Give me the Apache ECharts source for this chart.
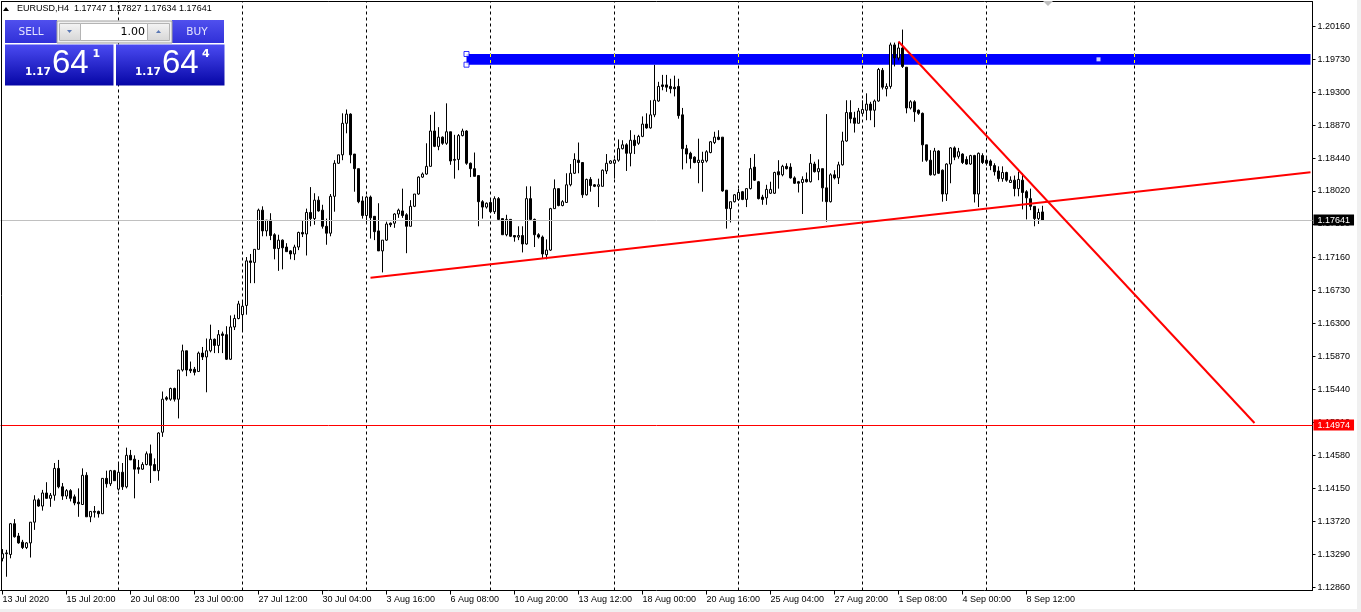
<!DOCTYPE html>
<html><head><meta charset="utf-8">
<script src="https://cdn.jsdelivr.net/npm/echarts@6/dist/echarts.min.js"></script>
<style>html,body{margin:0;padding:0;background:#fff;overflow:hidden}#c{width:1361px;height:612px}</style>
</head><body><div id="c"></div>
<script>
const symbolName = 'EURUSD,H4';
const opens = [1.1324,1.1330,1.1329,1.1369,1.1353,1.1345,1.1338,1.1344,1.1371,1.1400,1.1392,1.1409,1.1402,1.1406,1.1441,1.1417,1.1405,1.1412,1.1404,1.1397,1.1394,1.1432,1.1378,1.1385,1.1385,1.1382,1.1428,1.1421,1.1438,1.1414,1.1436,1.1417,1.1458,1.1453,1.1442,1.1440,1.1446,1.1460,1.1446,1.1438,1.1488,1.1533,1.1531,1.1545,1.1531,1.1569,1.1594,1.1570,1.1570,1.1567,1.1591,1.1586,1.1594,1.1609,1.1601,1.1616,1.1615,1.1583,1.1625,1.1636,1.1641,1.1653,1.1711,1.1709,1.1726,1.1777,1.1750,1.1764,1.1745,1.1727,1.1738,1.1729,1.1724,1.1720,1.1729,1.1748,1.1746,1.1774,1.1766,1.1790,1.1777,1.1756,1.1747,1.1795,1.1838,1.1849,1.1890,1.1902,1.1850,1.1831,1.1789,1.1770,1.1794,1.1769,1.1750,1.1724,1.1738,1.1760,1.1760,1.1772,1.1776,1.1771,1.1756,1.1782,1.1798,1.1820,1.1824,1.1834,1.1880,1.1860,1.1872,1.1864,1.1879,1.1843,1.1843,1.1874,1.1880,1.1838,1.1831,1.1822,1.1788,1.1781,1.1787,1.1775,1.1792,1.1766,1.1745,1.1765,1.1744,1.1742,1.1744,1.1733,1.1792,1.1765,1.1745,1.1742,1.1719,1.1725,1.1779,1.1805,1.1783,1.1787,1.1810,1.1825,1.1842,1.1839,1.1797,1.1817,1.1810,1.1808,1.1808,1.1828,1.1838,1.1838,1.1842,1.1857,1.1862,1.1851,1.1868,1.1864,1.1873,1.1889,1.1884,1.1901,1.1919,1.1940,1.1940,1.1938,1.1937,1.1938,1.1901,1.1857,1.1851,1.1846,1.1839,1.1839,1.1841,1.1852,1.1865,1.1872,1.1872,1.1803,1.1779,1.1788,1.1791,1.1801,1.1791,1.1805,1.1833,1.1814,1.1794,1.1793,1.1799,1.1799,1.1827,1.1823,1.1834,1.1833,1.1819,1.1814,1.1813,1.1817,1.1814,1.1837,1.1827,1.1831,1.1806,1.1788,1.1823,1.1819,1.1836,1.1867,1.1904,1.1897,1.1890,1.1903,1.1907,1.1915,1.1907,1.1919,1.1959,1.1935,1.1938,1.1992,1.1975,1.1988,1.1963,1.1910,1.1918,1.1907,1.1903,1.1862,1.1842,1.1823,1.1854,1.1829,1.1798,1.1837,1.1858,1.1847,1.1850,1.1843,1.1837,1.1848,1.1798,1.1848,1.1842,1.1841,1.1835,1.1828,1.1818,1.1826,1.1813,1.1816,1.1805,1.1816,1.1801,1.1792,1.1782,1.1766,1.17747];
const highs = [1.1336,1.1335,1.1370,1.1375,1.1357,1.1348,1.1345,1.1371,1.1406,1.1402,1.1413,1.1423,1.1409,1.1448,1.1452,1.1422,1.1414,1.1414,1.1407,1.1415,1.1441,1.1436,1.1385,1.1392,1.1386,1.1428,1.1438,1.1439,1.1439,1.1449,1.1448,1.1468,1.1465,1.1458,1.1452,1.1449,1.1463,1.1472,1.1454,1.1488,1.1541,1.1535,1.1546,1.1546,1.1569,1.1602,1.1594,1.1580,1.1573,1.1593,1.1599,1.1610,1.1628,1.1610,1.1621,1.1619,1.1626,1.1640,1.1641,1.1659,1.1659,1.1716,1.1720,1.1726,1.1779,1.1782,1.1764,1.1773,1.1747,1.1745,1.1739,1.1734,1.1725,1.1732,1.1749,1.1764,1.1779,1.1807,1.1799,1.1795,1.1784,1.1766,1.1798,1.1842,1.1849,1.1903,1.1908,1.1903,1.1850,1.1831,1.1795,1.1796,1.1796,1.1769,1.1786,1.1738,1.1762,1.1761,1.1773,1.1779,1.1805,1.1773,1.1790,1.1798,1.1821,1.1826,1.1864,1.1901,1.1905,1.1885,1.1873,1.1916,1.1879,1.1875,1.1876,1.1883,1.1881,1.1839,1.1852,1.1822,1.1790,1.1787,1.1792,1.1795,1.1794,1.1766,1.1771,1.1765,1.1744,1.1756,1.1756,1.1808,1.1808,1.1766,1.1747,1.1744,1.1739,1.1780,1.1817,1.1805,1.1790,1.1825,1.1837,1.1851,1.1865,1.1839,1.1818,1.1820,1.1811,1.1818,1.1830,1.1850,1.1842,1.1844,1.1869,1.1868,1.1864,1.1881,1.1875,1.1875,1.1899,1.1903,1.1920,1.1966,1.1944,1.1953,1.1953,1.1948,1.1952,1.1948,1.1910,1.1862,1.1853,1.1847,1.1870,1.1853,1.1855,1.1867,1.1879,1.1881,1.1872,1.1803,1.1788,1.1798,1.1805,1.1802,1.1805,1.1845,1.1850,1.1815,1.1797,1.1810,1.1814,1.1827,1.1842,1.1836,1.1838,1.1838,1.1821,1.1815,1.1821,1.1826,1.1850,1.1840,1.1843,1.1831,1.1902,1.1825,1.1829,1.1840,1.1879,1.1920,1.1920,1.1905,1.1910,1.1920,1.1929,1.1918,1.1921,1.1962,1.1962,1.1942,1.1995,1.1995,1.1996,1.2012,1.1963,1.1920,1.1920,1.1908,1.1904,1.1862,1.1855,1.1858,1.1855,1.1830,1.1838,1.1859,1.1860,1.1858,1.1851,1.1847,1.1849,1.1849,1.1852,1.1851,1.1845,1.1843,1.1838,1.1834,1.1834,1.1827,1.1821,1.1822,1.1827,1.1825,1.1803,1.1805,1.1782,1.1779,1.17827];
const lows = [1.1320,1.1300,1.1324,1.1351,1.1343,1.1336,1.1336,1.1325,1.1361,1.1391,1.1386,1.1402,1.1391,1.1399,1.1415,1.1400,1.1401,1.1398,1.1393,1.1378,1.1394,1.1378,1.1371,1.1377,1.1377,1.1382,1.1416,1.1418,1.1425,1.1412,1.1413,1.1415,1.1452,1.1402,1.1434,1.1439,1.1445,1.1422,1.1438,1.1425,1.1482,1.1529,1.1529,1.1528,1.1506,1.1567,1.1561,1.1565,1.1562,1.1567,1.1582,1.1540,1.1592,1.1591,1.1591,1.1591,1.1582,1.1582,1.1621,1.1635,1.1621,1.1641,1.1682,1.1682,1.1726,1.1743,1.1743,1.1738,1.1713,1.1698,1.1700,1.1723,1.1713,1.1712,1.1725,1.1742,1.1718,1.1756,1.1758,1.1775,1.1753,1.1732,1.1743,1.1775,1.1837,1.1842,1.1877,1.1838,1.1801,1.1786,1.1766,1.1760,1.1740,1.1738,1.1724,1.1696,1.1737,1.1755,1.1754,1.1767,1.1767,1.1721,1.1756,1.1781,1.1797,1.1819,1.1823,1.1834,1.1859,1.1855,1.1862,1.1862,1.1836,1.1818,1.1829,1.1873,1.1836,1.1820,1.1821,1.1756,1.1766,1.1779,1.1773,1.1772,1.1764,1.1745,1.1743,1.1742,1.1736,1.1738,1.1722,1.1732,1.1764,1.1729,1.1740,1.1714,1.1713,1.1724,1.1779,1.1782,1.1782,1.1787,1.1808,1.1824,1.1825,1.1793,1.1796,1.1801,1.1807,1.1781,1.1808,1.1824,1.1837,1.1818,1.1840,1.1856,1.1828,1.1834,1.1850,1.1862,1.1872,1.1883,1.1883,1.1898,1.1918,1.1933,1.1931,1.1929,1.1925,1.1896,1.1830,1.1838,1.1831,1.1838,1.1812,1.1801,1.1839,1.1851,1.1863,1.1868,1.1801,1.1753,1.1761,1.1787,1.1789,1.1790,1.1781,1.1804,1.1815,1.1791,1.1784,1.1784,1.1798,1.1798,1.1805,1.1821,1.1830,1.1818,1.1811,1.1800,1.1772,1.1813,1.1813,1.1826,1.1816,1.1788,1.1762,1.1787,1.1817,1.1811,1.1835,1.1866,1.1890,1.1878,1.1890,1.1901,1.1894,1.1894,1.1885,1.1918,1.1934,1.1925,1.1935,1.1964,1.1972,1.1962,1.1903,1.1908,1.1892,1.1901,1.1840,1.1840,1.1822,1.1822,1.1824,1.1788,1.1789,1.1812,1.1842,1.1844,1.1837,1.1836,1.1836,1.1787,1.1781,1.1837,1.1835,1.1829,1.1822,1.1814,1.1814,1.1814,1.1813,1.1795,1.1795,1.1778,1.1765,1.1777,1.1756,1.1759,1.17634];
const closes = [1.1330,1.1331,1.1369,1.1352,1.1344,1.1338,1.1344,1.1371,1.1400,1.1392,1.1409,1.1402,1.1406,1.1441,1.1417,1.1405,1.1412,1.1402,1.1396,1.1395,1.1432,1.1378,1.1385,1.1384,1.1382,1.1428,1.1421,1.1438,1.1425,1.1436,1.1417,1.1458,1.1452,1.1440,1.1440,1.1446,1.1460,1.1445,1.1438,1.1487,1.1531,1.1531,1.1545,1.1531,1.1569,1.1594,1.1569,1.1568,1.1566,1.1591,1.1586,1.1594,1.1609,1.1601,1.1615,1.1614,1.1583,1.1625,1.1636,1.1655,1.1652,1.1711,1.1709,1.1726,1.1777,1.1750,1.1764,1.1744,1.1727,1.1738,1.1728,1.1723,1.1720,1.1729,1.1748,1.1746,1.1774,1.1766,1.1790,1.1776,1.1756,1.1747,1.1795,1.1838,1.1849,1.1890,1.1902,1.1849,1.1831,1.1788,1.1770,1.1794,1.1767,1.1749,1.1724,1.1738,1.1759,1.1758,1.1772,1.1777,1.1770,1.1756,1.1782,1.1798,1.1820,1.1824,1.1834,1.1880,1.1860,1.1872,1.1864,1.1879,1.1841,1.1842,1.1874,1.1880,1.1838,1.1831,1.1821,1.1788,1.1781,1.1786,1.1775,1.1792,1.1765,1.1745,1.1765,1.1743,1.1742,1.1744,1.1733,1.1792,1.1765,1.1745,1.1742,1.1720,1.1725,1.1779,1.1805,1.1783,1.1788,1.1810,1.1825,1.1843,1.1839,1.1797,1.1817,1.1809,1.1808,1.1810,1.1829,1.1838,1.1841,1.1842,1.1857,1.1862,1.1851,1.1868,1.1861,1.1873,1.1889,1.1884,1.1901,1.1920,1.1938,1.1938,1.1937,1.1935,1.1935,1.1900,1.1857,1.1850,1.1844,1.1839,1.1842,1.1842,1.1853,1.1866,1.1872,1.1869,1.1802,1.1779,1.1788,1.1797,1.1800,1.1791,1.1805,1.1831,1.1816,1.1792,1.1791,1.1804,1.1804,1.1826,1.1823,1.1834,1.1831,1.1819,1.1812,1.1812,1.1817,1.1814,1.1838,1.1827,1.1831,1.1806,1.1788,1.1823,1.1819,1.1836,1.1867,1.1904,1.1896,1.1890,1.1906,1.1908,1.1915,1.1907,1.1919,1.1960,1.1937,1.1938,1.1992,1.1975,1.1988,1.1964,1.1910,1.1918,1.1905,1.1903,1.1862,1.1842,1.1823,1.1854,1.1825,1.1798,1.1837,1.1858,1.1846,1.1853,1.1839,1.1837,1.1848,1.1798,1.1851,1.1839,1.1838,1.1835,1.1827,1.1818,1.1826,1.1816,1.1816,1.1805,1.1817,1.1800,1.1793,1.1782,1.1766,1.1774,1.17641];

const yTickValues = [1.12860,1.13290,1.13720,1.14150,1.14580,1.15010,1.15440,1.15870,1.16300,1.16730,1.17160,1.17590,1.18020,1.18440,1.18870,1.19300,1.19730,1.20160];
const xTickLabels = ['13 Jul 2020','15 Jul 20:00','20 Jul 08:00','23 Jul 00:00','27 Jul 12:00','30 Jul 04:00','3 Aug 16:00','6 Aug 08:00','10 Aug 20:00','13 Aug 12:00','18 Aug 00:00','20 Aug 16:00','25 Aug 04:00','27 Aug 20:00','1 Sep 08:00','4 Sep 00:00','8 Sep 12:00'];
const weekGridTimes = ['2020.07.19 20:00','2020.07.26 20:00','2020.08.02 20:00','2020.08.09 20:00','2020.08.16 20:00','2020.08.23 20:00','2020.08.30 20:00','2020.09.06 20:00','2020.09.14 20:00'];
const supportLine = [['2020.08.03 00:00', 1.16892], ['2020.09.24 00:00', 1.18264]];
const resistanceLine = [['2020.09.01 08:00', 1.19964], ['2020.09.21 16:00', 1.15000]];
const zoneRect = {from: '2020.08.07 00:00', to: '2020.09.24 00:00', top: 1.19802, bottom: 1.19663, mid: '2020.09.11 12:00'};
const alertLevel = 1.14974;
const bidPrice = 1.17641, askPrice = 1.17644, lotSize = '1.00';

// H4 bar times: weekdays plus one Sunday bar, including empty future bars up to the chart edge
const categories = [];
(function () {
  let t = Date.UTC(2020, 6, 13, 4);
  const p2 = n => (n < 10 ? '0' : '') + n;
  while (categories.length < 328) {
    const d = new Date(t), wd = d.getUTCDay(), h = d.getUTCHours();
    if (!(wd === 6 || (wd === 0 && h !== 20))) {
      categories.push(d.getUTCFullYear() + '.' + p2(d.getUTCMonth() + 1) + '.' + p2(d.getUTCDate()) + ' ' + p2(h) + ':00');
    }
    t += 4 * 3600e3;
  }
})();
const candleData = opens.map((o, i) => [o, closes[i], lows[i], highs[i]]);
const last = opens.length - 1;

const FONT = 'Liberation Sans';
const fmt5 = v => Number(v).toFixed(5);
const boxGrad = {type: 'linear', x: 0, y: 0, x2: 0, y2: 1, colorStops: [{offset: 0, color: '#4b4bf2'}, {offset: 1, color: '#0606a6'}]};
const btnGrad = {type: 'linear', x: 0, y: 0, x2: 0, y2: 1, colorStops: [{offset: 0, color: '#5050ee'}, {offset: 1, color: '#3030d8'}]};
const grayGrad = {type: 'linear', x: 0, y: 0, x2: 0, y2: 1, colorStops: [{offset: 0, color: '#f4f4f4'}, {offset: 1, color: '#d6d6d6'}]};

function priceParts(p) {
  const s = p.toFixed(5);
  return {big: s.slice(0, 4), mid: s.slice(4, 6), sup: s.slice(6)};
}
const bp = priceParts(bidPrice), ap = priceParts(askPrice);
function T(text, x, y, opt) {
  return Object.assign({type: 'text', z: 100, style: Object.assign({text: text, x: x, y: y, fill: '#000', fontFamily: FONT, fontSize: 9,
    align: 'left', textAlign: 'left', verticalAlign: 'middle', textVerticalAlign: 'middle'}, opt || {})});
}
function R(x, y, w, h, fill, stroke) {
  return {type: 'rect', z: 100, shape: {x: x, y: y, width: w, height: h}, style: {fill: fill, stroke: stroke || null, lineWidth: stroke ? 1 : 0}};
}
const graphics = [
  {type: 'line', z: 50, shape: {x1: 1.5, y1: 1, x2: 1.5, y2: 590.5}, style: {stroke: '#000', lineWidth: 1}},
  {type: 'line', z: 50, shape: {x1: 1, y1: 1.5, x2: 1312.5, y2: 1.5}, style: {stroke: '#000', lineWidth: 1}},
  R(1357, 0, 4, 612, '#f0f0f0'),
  R(0, 609, 1361, 3, '#f0f0f0'),
  {type: 'polygon', z: 50, shape: {points: [[1043, 1], [1053, 1], [1048, 6]]}, style: {fill: '#c0c0c0'}},
  {type: 'polygon', z: 100, shape: {points: [[3, 11], [9, 11], [6, 7]]}, style: {fill: '#000'}},
  T(symbolName + '  ' + [opens[last], highs[last], lows[last], closes[last]].map(fmt5).join(' '), 17, 9),
  R(5, 20, 52, 23, btnGrad),
  R(172, 20, 52, 23, btnGrad),
  R(57, 21, 115, 22, '#f0f0f0', '#a0a0a0'),
  R(59.5, 23.5, 21, 17, grayGrad, '#b4b4b4'),
  R(80.5, 23.5, 67, 17, '#ffffff', '#b4b4b4'),
  R(147.5, 23.5, 22, 17, grayGrad, '#b4b4b4'),
  {type: 'polygon', z: 101, shape: {points: [[67, 30], [72, 30], [69.5, 33]]}, style: {fill: '#5a78b4'}},
  {type: 'polygon', z: 101, shape: {points: [[156, 33], [161, 33], [158.5, 30]]}, style: {fill: '#5a78b4'}},
  T('SELL', 31, 32, {fill: '#e4e4ff', fontFamily: 'DejaVu Sans', fontSize: 10.5, align: 'center', textAlign: 'center'}),
  T('BUY', 197, 32, {fill: '#e4e4ff', fontFamily: 'DejaVu Sans', fontSize: 10.5, align: 'center', textAlign: 'center'}),
  T(lotSize, 145, 32, {fontFamily: 'DejaVu Sans', fontSize: 11, align: 'right', textAlign: 'right'}),
  {type: 'line', z: 101, shape: {x1: 9, y1: 43.5, x2: 53, y2: 43.5}, style: {stroke: '#ffffff', lineWidth: 1}},
  {type: 'line', z: 101, shape: {x1: 176, y1: 43.5, x2: 220, y2: 43.5}, style: {stroke: '#ffffff', lineWidth: 1}},
  R(5, 44.5, 108.5, 41, boxGrad),
  R(116, 44.5, 108.5, 41, boxGrad),
  T(bp.big, 25, 72, {fill: '#fff', fontFamily: 'DejaVu Sans', fontWeight: 'bold', fontSize: 10.5}),
  T(bp.mid, 52, 64, {fill: '#fff', fontFamily: FONT, fontSize: 33}),
  T(bp.sup, 92.5, 54.5, {fill: '#fff', fontFamily: 'DejaVu Sans', fontWeight: 'bold', fontSize: 11}),
  T(ap.big, 135, 72, {fill: '#fff', fontFamily: 'DejaVu Sans', fontWeight: 'bold', fontSize: 10.5}),
  T(ap.mid, 162, 64, {fill: '#fff', fontFamily: FONT, fontSize: 33}),
  T(ap.sup, 202, 54.5, {fill: '#fff', fontFamily: 'DejaVu Sans', fontWeight: 'bold', fontSize: 11})
];

const chart = echarts.init(document.getElementById('c'), null, {renderer: 'canvas', width: 1361, height: 612});
const labelBox = (bg, val) => ({show: true, position: 'end', distance: 1, formatter: fmt5(val), color: '#fff', backgroundColor: bg,
  fontFamily: FONT, fontSize: 9, lineHeight: 10, padding: [1, 4, 0, 4]});
chart.setOption({
  animation: false,
  backgroundColor: '#ffffff',
  textStyle: {fontFamily: FONT},
  grid: {left: 0.5, top: 1.5, width: 1312, height: 589, containLabel: false, outerBoundsMode: 'none'},
  xAxis: {
    type: 'category', data: categories, boundaryGap: true,
    axisLine: {show: true, onZero: false, lineStyle: {color: '#000', width: 1}},
    axisTick: {show: true, length: 4, alignWithLabel: true, interval: (i) => i % 16 === 0 && i / 16 < xTickLabels.length, lineStyle: {color: '#000'}},
    axisLabel: {show: true, interval: (i) => i % 16 === 0 && i / 16 < xTickLabels.length, formatter: (v, i) => xTickLabels[i / 16],
      color: '#000', fontSize: 9, fontFamily: FONT, align: 'left', margin: 5, hideOverlap: false},
    splitLine: {show: false}
  },
  yAxis: {
    type: 'value', position: 'right', min: 1.12821, max: 1.20485,
    axisLine: {show: true, lineStyle: {color: '#000', width: 1}},
    axisTick: {show: true, length: 3, customValues: yTickValues, lineStyle: {color: '#000'}},
    axisLabel: {show: true, customValues: yTickValues, formatter: v => fmt5(v), color: '#000', fontSize: 9, fontFamily: FONT, margin: 5},
    splitLine: {show: false}
  },
  graphic: {elements: graphics},
  series: [
    {
      name: 'grid', type: 'line', data: [], z: 1, silent: true,
      markLine: {silent: true, z: 0.5, symbol: 'none', label: {show: false}, animation: false,
        lineStyle: {color: '#000', width: 1, type: [3, 3]},
        data: weekGridTimes.map(t => ({xAxis: t}))}
    },
    {
      name: 'zone', type: 'line', data: [], z: 1, silent: true,
      markArea: {silent: true, z: 1, itemStyle: {color: '#0000ff'}, label: {show: false},
        data: [[{xAxis: zoneRect.from, yAxis: zoneRect.top}, {xAxis: zoneRect.to, yAxis: zoneRect.bottom}]]},
      markLine: {silent: true, z: 1.2, symbol: 'none', precision: 5, label: {show: false}, lineStyle: {color: '#ffff00', width: 1, type: [3, 3]},
        data: weekGridTimes.filter(t => t > zoneRect.from).map(t => [{xAxis: t, yAxis: zoneRect.top}, {xAxis: t, yAxis: zoneRect.bottom}])}
    },
    {
      name: symbolName, type: 'candlestick', data: candleData, barWidth: 2, z: 2,
      itemStyle: {color: '#ffffff', color0: '#000000', borderColor: '#000000', borderColor0: '#000000', borderWidth: 1}
    },
    {
      name: 'levels', type: 'line', data: [], z: 3, silent: true,
      markLine: {silent: true, z: 3, symbol: 'none', precision: 5,
        data: [
          {yAxis: bidPrice, lineStyle: {color: '#c0c0c0', width: 1, type: 'solid'}, label: labelBox('#000000', bidPrice)},
          {yAxis: alertLevel, lineStyle: {color: '#ff0000', width: 1, type: 'solid'}, label: labelBox('#ff0000', alertLevel)}
        ]}
    },
    {name: 'support', type: 'line', data: supportLine, z: 4, symbol: 'none', silent: true, lineStyle: {color: '#ff0000', width: 2}},
    {name: 'resistance', type: 'line', data: resistanceLine, z: 4, symbol: 'none', silent: true, lineStyle: {color: '#ff0000', width: 2}},
    {
      name: 'handles', type: 'scatter', z: 5, silent: true, symbol: 'rect',
      data: [
        {value: [zoneRect.from, zoneRect.top], symbolSize: 5, itemStyle: {color: '#fff', borderColor: '#0000ff', borderWidth: 1}},
        {value: [zoneRect.from, zoneRect.bottom], symbolSize: 5, itemStyle: {color: '#fff', borderColor: '#0000ff', borderWidth: 1}},
        {value: [zoneRect.mid, (zoneRect.top + zoneRect.bottom) / 2], symbolSize: 4, itemStyle: {color: '#fff', borderWidth: 0}}
      ]
    }
  ]
});
</script></body></html>
